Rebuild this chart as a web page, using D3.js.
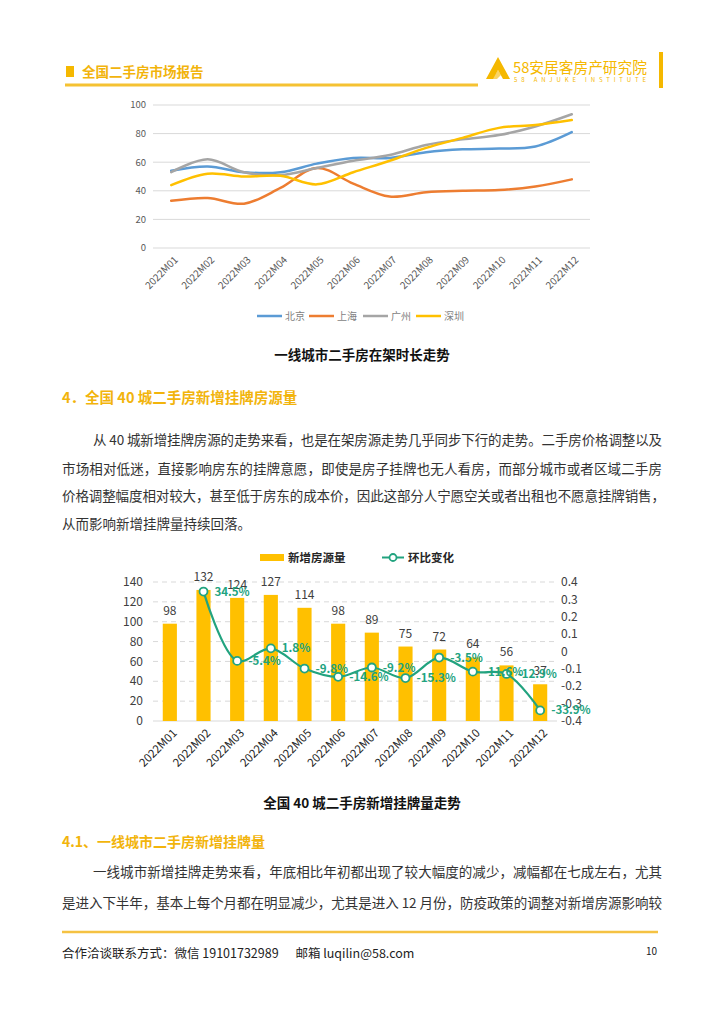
<!DOCTYPE html>
<html><head><meta charset="utf-8">
<script src="https://cdn.jsdelivr.net/npm/d3@7"></script>
<style>
html,body{margin:0;padding:0;background:#fff;}
svg{display:block;font-family:"Noto Sans CJK SC","Noto Sans",sans-serif;}
</style></head>
<body>
<svg id="page" width="724" height="1024"></svg>
<script>
// ---------- data ----------
const months = ["2022M01","2022M02","2022M03","2022M04","2022M05","2022M06","2022M07","2022M08","2022M09","2022M10","2022M11","2022M12"];
const cityNames = ["北京","上海","广州","深圳"];
const beijing   = [54, 57, 53, 53, 59, 63, 63, 67, 69, 69.5, 71, 81];
const shanghai  = [33, 35, 31, 42, 56, 45, 36, 39, 40, 40.5, 43, 48];
const guangzhou = [53, 62, 53, 51, 56, 61, 65, 72, 76, 79, 85, 93.5];
const shenzhen  = [44, 52, 50, 50.5, 44.5, 53, 61, 70, 77, 84, 86, 89.5];
const chart1Ticks = [0, 20, 40, 60, 80, 100];

const newListings = [98, 132, 124, 127, 114, 98, 89, 75, 72, 64, 56, 37];
const momChange   = [null, 0.345, -0.054, 0.018, -0.098, -0.146, -0.092, -0.153, -0.035, -0.116, -0.129, -0.339];
const leftTicks  = [0, 20, 40, 60, 80, 100, 120, 140];
const rightTicks = [-0.4, -0.3, -0.2, -0.1, 0, 0.1, 0.2, 0.3, 0.4];
const legend2 = ["新增房源量", "环比变化"];

const para1 = [
  "从 40 城新增挂牌房源的走势来看，也是在架房源走势几乎同步下行的走势。二手房价格调整以及",
  "市场相对低迷，直接影响房东的挂牌意愿，即使是房子挂牌也无人看房，而部分城市或者区域二手房",
  "价格调整幅度相对较大，甚至低于房东的成本价，因此这部分人宁愿空关或者出租也不愿意挂牌销售，",
  "从而影响新增挂牌量持续回落。"
];
const para2 = [
  "一线城市新增挂牌走势来看，年底相比年初都出现了较大幅度的减少，减幅都在七成左右，尤其",
  "是进入下半年，基本上每个月都在明显减少，尤其是进入 12 月份，防疫政策的调整对新增房源影响较"
];

// ---------- page ----------
const svg = d3.select("#page");
const gold = "#F5B800";
const headGold = "#F2B40C";
const hy = s => s.replace(/\u2212/g, "-");
svg.append("rect").attr("width",724).attr("height",1024).attr("fill","#fff");

// header
svg.append("rect").attr("x",66).attr("y",66).attr("width",8).attr("height",11).attr("fill",gold);
svg.append("text").attr("x",82).attr("y",77).attr("font-size",13.5).attr("font-weight","bold")
  .attr("fill",headGold).text("全国二手房市场报告");
svg.append("line").attr("x1",65).attr("x2",478).attr("y1",85).attr("y2",85)
  .attr("stroke","#F5C232").attr("stroke-width",3);
// logo
svg.append("path").attr("d","M486,79 L498,57 L510,79 L503,79 L498,70 L493,79 Z").attr("fill",gold);
svg.append("path").attr("d","M492,79 L498,70 L501,75 L497,79 Z").attr("fill",gold).attr("opacity",0.6);
svg.append("text").attr("x",513).attr("y",73).attr("font-size",15).attr("fill",gold)
  .attr("textLength",134).attr("lengthAdjust","spacingAndGlyphs").text("58安居客房产研究院");
svg.append("text").attr("x",514).attr("y",82).attr("font-size",6).attr("fill",gold)
  .attr("textLength",132).attr("lengthAdjust","spacing").text("58 ANJUKE INSTITUTE");
svg.append("rect").attr("x",659).attr("y",52).attr("width",4).attr("height",36).attr("fill",gold);

// ---------- chart 1 ----------
const c1 = {left:153, right:590, top:105, bottom:248};
const x1 = d3.scalePoint().domain(months).range([c1.left, c1.right]).padding(0.5);
const y1 = d3.scaleLinear().domain([0,100]).range([c1.bottom, c1.top]);
const g1 = svg.append("g");
g1.selectAll("line.grid").data(chart1Ticks).join("line")
  .attr("x1",c1.left).attr("x2",c1.right).attr("y1",d=>y1(d)).attr("y2",d=>y1(d))
  .attr("stroke","#D9D9D9").attr("stroke-width",1);
g1.selectAll("text.yl").data(chart1Ticks).join("text")
  .attr("x",146).attr("y",d=>y1(d)).attr("dy","0.35em").attr("text-anchor","end")
  .attr("font-size",9.5).attr("fill","#595959").text(d=>d);
g1.selectAll("text.xl").data(months).join("text")
  .attr("transform",d=>`translate(${x1(d)+5},${258}) rotate(-45)`)
  .attr("text-anchor","end").attr("dy","0.35em")
  .attr("font-size",10).attr("fill","#595959").text(d=>d);
const series1 = [beijing, shanghai, guangzhou, shenzhen];
const colors1 = ["#5B9BD5","#ED7D31","#A5A5A5","#FFC000"];
const line1 = d3.line().x((d,i)=>x1(months[i])).y(d=>y1(d)).curve(d3.curveCatmullRom.alpha(0.5));
series1.forEach((s,k)=>{
  g1.append("path").attr("d",line1(s)).attr("fill","none")
    .attr("stroke",colors1[k]).attr("stroke-width",2.5).attr("stroke-linecap","round");
});
// legend 1
const legX = [257, 309, 363, 416];
cityNames.forEach((n,k)=>{
  g1.append("line").attr("x1",legX[k]).attr("x2",legX[k]+25).attr("y1",316).attr("y2",316)
    .attr("stroke",colors1[k]).attr("stroke-width",2.5);
  g1.append("text").attr("x",legX[k]+28).attr("y",316).attr("dy","0.35em")
    .attr("font-size",10).attr("fill","#7F7F7F").text(n);
});
svg.append("text").attr("x",362).attr("y",360).attr("text-anchor","middle")
  .attr("font-size",13.5).attr("font-weight","bold").attr("fill","#111").text("一线城市二手房在架时长走势");

// heading 4
svg.append("text").attr("x",62).attr("y",403).attr("font-size",14.5).attr("font-weight","bold")
  .attr("fill",headGold).text("4．全国 40 城二手房新增挂牌房源量");

// paragraph 1
const p1y = [445, 474, 501, 529];
const p1x = [93, 62, 62, 62];
const p1len = [569, 600, 603, null];
para1.forEach((t,i)=>{
  const tx = svg.append("text").attr("x",p1x[i]).attr("y",p1y[i]).attr("font-size",13.5)
    .attr("fill","#333").text(t);
  if (p1len[i]) tx.attr("textLength",p1len[i]).attr("lengthAdjust","spacing");
});

// ---------- chart 2 ----------
const c2 = {left:153, right:557, top:582, bottom:721};
const x2 = d3.scaleBand().domain(months).range([c2.left, c2.right]).paddingInner(0.58).paddingOuter(0.29);
const y2 = d3.scaleLinear().domain([0,140]).range([c2.bottom, c2.top]);
const y2r = d3.scaleLinear().domain([-0.4,0.4]).range([c2.bottom, c2.top]);
const green = "#22A37F";
const g2 = svg.append("g");
g2.selectAll("line.grid").data(leftTicks).join("line")
  .attr("x1",c2.left).attr("x2",c2.right).attr("y1",d=>y2(d)).attr("y2",d=>y2(d))
  .attr("stroke","#D9D9D9").attr("stroke-width",1)
  .attr("stroke-dasharray",d=>d===0?null:"5,4");
g2.selectAll("text.yl").data(leftTicks).join("text")
  .attr("x",143).attr("y",d=>y2(d)).attr("dy","0.35em").attr("text-anchor","end")
  .attr("font-size",12).attr("fill","#404040").text(d=>d);
g2.selectAll("text.yr").data(rightTicks).join("text")
  .attr("x",561).attr("y",d=>y2r(d)).attr("dy","0.35em").attr("text-anchor","start")
  .attr("font-size",12).attr("fill","#404040").text(d=>String(+d.toFixed(1)));
g2.selectAll("rect.bar").data(newListings).join("rect")
  .attr("x",(d,i)=>x2(months[i])).attr("width",x2.bandwidth())
  .attr("y",d=>y2(d)).attr("height",d=>c2.bottom-y2(d)).attr("fill","#FFC000");
g2.selectAll("text.bl").data(newListings).join("text")
  .attr("x",(d,i)=>x2(months[i])+x2.bandwidth()/2).attr("y",d=>y2(d)-9)
  .attr("text-anchor","middle").attr("font-size",12).attr("fill","#404040").text(d=>d);
const cx2 = m => x2(m)+x2.bandwidth()/2;
const pts = momChange.map((v,i)=>({m:months[i], v})).filter(d=>d.v!==null);
const line2 = d3.line().x(d=>cx2(d.m)).y(d=>y2r(d.v)).curve(d3.curveCatmullRom.alpha(0.5));
g2.append("path").attr("d",line2(pts)).attr("fill","none").attr("stroke",green).attr("stroke-width",2.2);
g2.selectAll("circle.pt").data(pts).join("circle")
  .attr("cx",d=>cx2(d.m)).attr("cy",d=>y2r(d.v)).attr("r",4)
  .attr("fill","#fff").attr("stroke",green).attr("stroke-width",1.8);
g2.selectAll("text.pl").data(pts).join("text")
  .attr("x",d=>cx2(d.m)+11).attr("y",d=>y2r(d.v)).attr("dy","0.35em")
  .attr("font-size",11.5).attr("font-weight","bold").attr("fill",green)
  .text(d=>hy(d3.format(".1%")(d.v)));
g2.selectAll("text.xl").data(months).join("text")
  .attr("transform",d=>`translate(${cx2(d)+5},${731}) rotate(-45)`)
  .attr("text-anchor","end").attr("dy","0.35em")
  .attr("font-size",11.5).attr("fill","#262626").text(d=>d);
// legend 2
g2.append("rect").attr("x",260).attr("y",554).attr("width",24).attr("height",7).attr("fill","#FFC000");
g2.append("text").attr("x",288).attr("y",557.5).attr("dy","0.35em").attr("font-size",11.5)
  .attr("font-weight","bold").attr("fill","#262626").text(legend2[0]);
g2.append("line").attr("x1",382).attr("x2",404).attr("y1",557.5).attr("y2",557.5).attr("stroke",green).attr("stroke-width",2);
g2.append("circle").attr("cx",393).attr("cy",557.5).attr("r",3.5).attr("fill","#fff").attr("stroke",green).attr("stroke-width",1.8);
g2.append("text").attr("x",408).attr("y",557.5).attr("dy","0.35em").attr("font-size",11.5)
  .attr("font-weight","bold").attr("fill","#262626").text(legend2[1]);
svg.append("text").attr("x",362).attr("y",808).attr("text-anchor","middle")
  .attr("font-size",13.5).attr("font-weight","bold").attr("fill","#111").text("全国 40 城二手房新增挂牌量走势");

// heading 4.1
svg.append("text").attr("x",62).attr("y",847).attr("font-size",14).attr("font-weight","bold")
  .attr("fill",headGold).text("4.1、一线城市二手房新增挂牌量");
const p2y = [877, 908];
const p2x = [93, 62];
const p2len = [569, 600];
para2.forEach((t,i)=>{
  svg.append("text").attr("x",p2x[i]).attr("y",p2y[i]).attr("font-size",13.5)
    .attr("fill","#333").attr("textLength",p2len[i]).attr("lengthAdjust","spacing").text(t);
});

// footer
svg.append("line").attr("x1",62).attr("x2",658).attr("y1",932).attr("y2",932)
  .attr("stroke","#F5C242").attr("stroke-width",2.5);
svg.append("text").attr("x",62).attr("y",958).attr("font-size",12.5).attr("fill","#222")
  .attr("xml:space","preserve").text("合作洽谈联系方式：微信 19101732989      邮箱 luqilin@58.com");
svg.append("text").attr("x",657).attr("y",955).attr("text-anchor","end").attr("font-size",10).attr("fill","#222").text("10");
</script>
</body></html>
